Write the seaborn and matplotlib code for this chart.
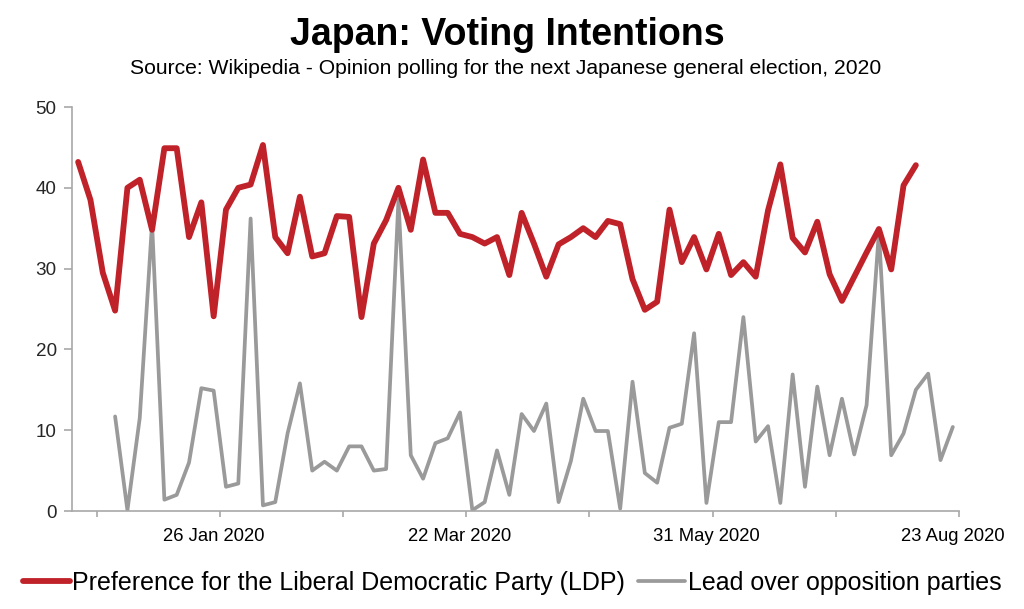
import numpy as np
import pandas as pd
import matplotlib
matplotlib.use("Agg")
import matplotlib.pyplot as plt
import seaborn as sns

# LDP preference, one value per poll (left to right on the chart)
ldp = [43.2, 38.5, 29.5, 24.8, 40.0, 41.0, 34.8, 44.9, 44.9, 33.9,
       38.2, 24.1, 37.3, 40.0, 40.4, 45.3, 33.9, 31.9, 38.9, 31.5,
       31.9, 36.5, 36.4, 24.0, 33.1, 36.0, 40.0, 34.8, 43.5, 36.9,
       36.9, 34.3, 33.9, 33.1, 33.9, 29.2, 36.9, 33.1, 29.0, 33.0,
       33.9, 35.0, 33.9, 35.9, 35.5, 28.7, 24.9, 25.9, 37.3, 30.8,
       33.9, 29.9, 34.3, 29.2, 30.8, 29.0, 37.2, 42.9, 33.8, 32.0,
       35.8, 29.3, 26.0, 29.0, 32.0, 34.9, 29.9, 40.3, 42.8]

# lead over opposition parties (series starts at the 4th poll)
lead = [11.7, 0.1, 11.5, 35.6, 1.4, 2.0, 6.0, 15.2, 14.9, 3.0,
        3.4, 36.2, 0.7, 1.1, 9.6, 15.8, 5.0, 6.1, 5.0, 8.0,
        8.0, 5.0, 5.2, 38.5, 6.9, 4.0, 8.4, 9.0, 12.2, 0.1,
        1.1, 7.5, 2.0, 12.0, 9.9, 13.3, 1.1, 6.2, 13.9, 9.9,
        9.9, 0.3, 16.0, 4.7, 3.5, 10.3, 10.8, 22.0, 1.0, 11.0,
        11.0, 24.0, 8.6, 10.5, 1.0, 16.9, 3.0, 15.4, 6.9, 13.9,
        7.0, 13.1, 34.5, 6.9, 9.6, 15.0, 17.0, 6.3, 10.4]

n_polls = 72
label_pos = [11, 31, 51, 71]
label_txt = ["26 Jan 2020", "22 Mar 2020", "31 May 2020", "23 Aug 2020"]

df = pd.DataFrame({"poll": np.arange(n_polls)})
df["ldp"] = ldp + [np.nan] * (n_polls - len(ldp))
df["lead"] = [np.nan] * (n_polls - len(lead)) + lead

sns.set_style("white")
plt.rcParams['font.family'] = ['Liberation Sans', 'DejaVu Sans']
plt.rcParams['text.color'] = 'black'

fig = plt.figure(figsize=(10.24, 6.09), dpi=100)
ax = fig.add_axes([0.0703, 0.1609, 0.8662, 0.6634])

red = "#C0222A"
grey = "#9A9A9A"
sns.lineplot(data=df, x="poll", y="lead", ax=ax, color=grey, linewidth=2.7,
             solid_joinstyle="round", solid_capstyle="round",
             label="Lead over opposition parties")
sns.lineplot(data=df, x="poll", y="ldp", ax=ax, color=red, linewidth=4.2,
             solid_joinstyle="round", solid_capstyle="round",
             label="Preference for the Liberal Democratic Party (LDP)")

ax.set_xlim(-0.5, n_polls - 0.5)
ax.set_ylim(0, 50)
ax.set_yticks(range(0, 51, 10))
ax.set_xticks(label_pos)
ax.set_xticklabels(label_txt)
ax.set_xticks(np.arange(1.5, n_polls, 10), minor=True)
ax.set_xlabel("")
ax.set_ylabel("")

spine_c = "#A8A8A8"
for s in ["top", "right"]:
    ax.spines[s].set_visible(False)
for s in ["left", "bottom"]:
    ax.spines[s].set_color(spine_c)
    ax.spines[s].set_linewidth(1.2)

ax.tick_params(axis="x", which="major", length=0, pad=12, labelsize=13.3, labelcolor="black")
ax.tick_params(axis="x", which="minor", length=4.5, width=1.2, color=spine_c, bottom=True)
ax.tick_params(axis="y", length=6, width=1.2, color=spine_c, pad=5, labelsize=13.6,
               labelcolor="#262626", left=True)

handles, labels = ax.get_legend_handles_labels()
ax.legend(handles[::-1], labels[::-1], loc="center", bbox_to_anchor=(0.5, 0.043),
          bbox_transform=fig.transFigure, ncol=2, frameon=False, fontsize=18,
          handlelength=1.9, handletextpad=0.1, columnspacing=0.5, labelcolor="black")

fig.text(0.495, 0.943, "Japan: Voting Intentions", ha="center", va="center",
         fontsize=27, fontweight="bold", color="black")
fig.text(0.494, 0.887, "Source: Wikipedia - Opinion polling for the next Japanese general election, 2020",
         ha="center", va="center", fontsize=15.2, color="black")

fig.savefig("out.png", dpi=100)
